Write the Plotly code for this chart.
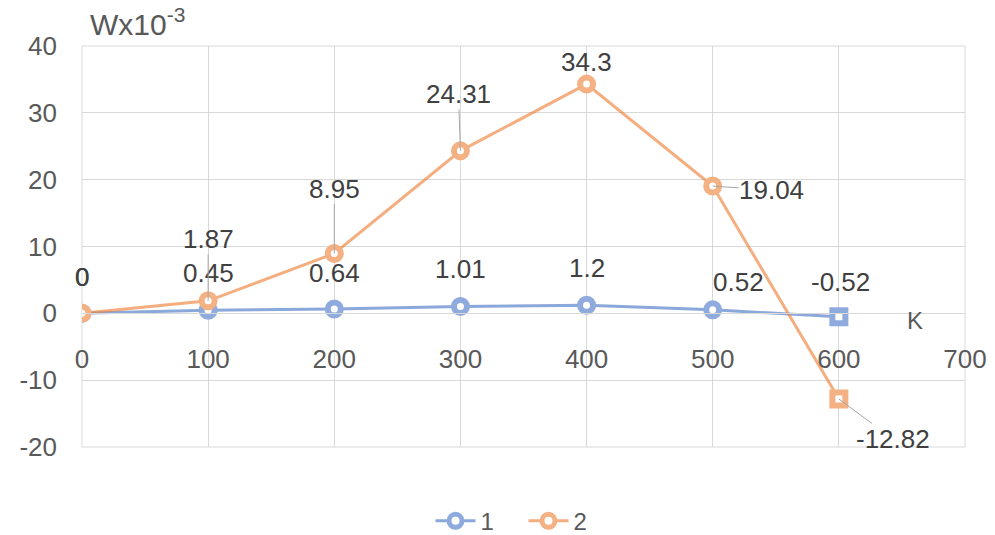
import plotly.graph_objects as go

# ---- data ----
x_vals = [0, 100, 200, 300, 400, 500, 600]
series1 = [0, 0.45, 0.64, 1.01, 1.2, 0.52, -0.52]
series2 = [0, 1.87, 8.95, 24.31, 34.3, 19.04, -12.82]
series_names = ["1", "2"]
x_ticks = [0, 100, 200, 300, 400, 500, 600, 700]
y_ticks = [-20, -10, 0, 10, 20, 30, 40]
y_tick_text = ["-20", "-10", "0", "10", "20", "30", "40"]
y_title = "Wx10<sup>-3</sup>"
x_title = "K"

# ---- styles ----
blue = "rgba(68,114,196,0.62)"
orange = "rgba(237,125,49,0.62)"
blue_m = "#8faadc"
orange_m = "#f4b183"
grid = "#d9d9d9"
txt = "#595959"
lbl = "#404040"
FONT = "Liberation Sans, Arial, sans-serif"
symbols = ["circle"] * 6 + ["square"]

# label offsets (pixels, text centre relative to point)
off1 = [(0, 36), (0, 37), (0, 36), (0, 38), (0, 37), (26, 28), (2, 35)]
off2 = [(0, 36), (0, 62), (0, 65), (-2, 57), (0, 22), (59, -4), (54, -40)]
arrow2 = [False, True, True, True, False, True, True]

fig = go.Figure()
for name, ys, col, mcol in [(series_names[0], series1, blue, blue_m),
                            (series_names[1], series2, orange, orange_m)]:
    fig.add_trace(go.Scatter(
        x=x_vals, y=ys, name=name, mode="lines+markers",
        line=dict(color=col, width=3),
        marker=dict(symbol=symbols, size=13, color="white",
                    line=dict(color=mcol, width=6)),
    ))

annotations = []
for xv, yv, (dx, dy) in zip(x_vals, series1, off1):
    annotations.append(dict(x=xv, y=yv, xref="x", yref="y", text=f"{yv:g}",
                            showarrow=False, xshift=dx, yshift=dy,
                            font=dict(family=FONT, size=26, color=lbl)))
for xv, yv, (dx, dy), ar in zip(x_vals, series2, off2, arrow2):
    if ar:
        annotations.append(dict(x=xv, y=yv, xref="x", yref="y", text=f"{yv:g}",
                                showarrow=True, ax=dx, ay=-dy, arrowhead=0,
                                arrowwidth=1, arrowcolor="#a6a6a6", standoff=0,
                                borderpad=0,
                                font=dict(family=FONT, size=26, color=lbl)))
    else:
        annotations.append(dict(x=xv, y=yv, xref="x", yref="y", text=f"{yv:g}",
                                showarrow=False, xshift=dx, yshift=dy,
                                font=dict(family=FONT, size=26, color=lbl)))

annotations.append(dict(x=0.0068, y=1.06, xref="paper", yref="paper", text=y_title,
                        showarrow=False, xanchor="left", yanchor="middle",
                        font=dict(family=FONT, size=30, color=txt)))
annotations.append(dict(x=660, y=-1.05, xref="x", yref="y", text=x_title,
                        showarrow=False,
                        font=dict(family=FONT, size=24, color=txt)))

fig.update_layout(
    width=995, height=535,
    margin=dict(l=82, r=30, t=46, b=88, autoexpand=False),
    paper_bgcolor="white", plot_bgcolor="white",
    font=dict(family=FONT, size=26, color=txt),
    showlegend=True,
    legend=dict(orientation="h", x=0.5, xanchor="center", y=-0.185, yanchor="middle",
                font=dict(family=FONT, size=24, color=txt), itemwidth=40,
                entrywidth=38, entrywidthmode="pixels", tracegroupgap=0),
    annotations=annotations,
    xaxis=dict(range=[0, 700], tickvals=x_ticks, showgrid=True, gridcolor=grid,
               gridwidth=1, zeroline=False, showline=True, linecolor=grid, linewidth=1,
               anchor="free", position=1/3, ticks="", ticklabelstandoff=22,
               automargin=False,
               tickfont=dict(family=FONT, size=26, color=txt)),
    yaxis=dict(range=[-20, 40], tickvals=y_ticks, ticktext=y_tick_text,
               showgrid=True, gridcolor=grid, automargin=False,
               gridwidth=1, zeroline=False, showline=False, ticks="",
               ticklabelstandoff=24,
               tickfont=dict(family=FONT, size=26, color=txt)),
    shapes=[dict(type="rect", xref="paper", yref="paper", x0=0, x1=1, y0=0, y1=1,
                 line=dict(color=grid, width=1), layer="below")],
)

fig.write_html("out.html")
